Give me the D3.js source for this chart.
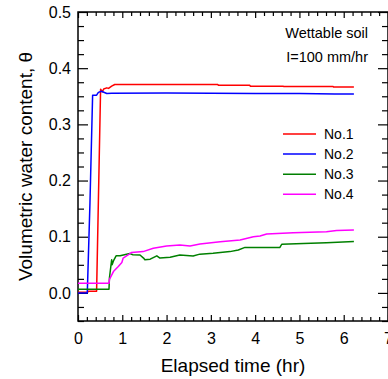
<!DOCTYPE html>
<html>
<head>
<meta charset="utf-8">
<script src="https://cdn.jsdelivr.net/npm/d3@7"></script>
<style>
  html, body { margin: 0; padding: 0; background: #fff; }
  svg { display: block; font-family: "Liberation Sans", Arial, sans-serif; }
</style>
</head>
<body>
<svg id="chart" width="388" height="379"></svg>
<script>
// ---- Data ----
const xTickValues = [0, 1, 2, 3, 4, 5, 6, 7];
const xTickLabels = ["0", "1", "2", "3", "4", "5", "6", "7"];
const yTickValues = [0.0, 0.1, 0.2, 0.3, 0.4, 0.5];
const yTickLabels = ["0.0", "0.1", "0.2", "0.3", "0.4", "0.5"];

const seriesNames = ["No.1", "No.2", "No.3", "No.4"];
const seriesColors = ["#ff0000", "#0000ff", "#008000", "#ff00ff"];

const no1Time = [0, 0.22, 0.23, 0.42, 0.51, 0.55, 0.58, 0.65, 0.69, 0.76, 0.83, 3.16, 3.17, 3.88, 3.89, 4.63, 4.64, 5.76, 5.77, 6.23];
const no1Theta = [0.001, 0.001, 0.003, 0.003, 0.3625, 0.358, 0.363, 0.365, 0.364, 0.368, 0.371, 0.371, 0.3695, 0.3695, 0.368, 0.368, 0.3675, 0.3675, 0.3665, 0.3665];

const no2Time = [0, 0.21, 0.27, 0.33, 0.42, 0.46, 0.53, 0.65, 0.76, 2.0, 3.0, 4.0, 5.0, 5.8, 6.23];
const no2Theta = [0.0, 0.0, 0.16, 0.352, 0.352, 0.357, 0.359, 0.355, 0.3555, 0.356, 0.3555, 0.355, 0.355, 0.354, 0.354];

const no3Time = [0, 0.70, 0.71, 0.76, 0.77, 0.80, 0.86, 0.95, 1.17, 1.24, 1.40, 1.48, 1.51, 1.63, 1.78, 1.85, 2.08, 2.30, 2.60, 2.75, 3.05, 3.43, 3.62, 3.77, 4.11, 4.56, 4.60, 5.09, 5.61, 6.23];
const no3Theta = [0.0066, 0.0066, 0.027, 0.059, 0.050, 0.057, 0.066, 0.066, 0.070, 0.068, 0.0675, 0.062, 0.059, 0.060, 0.066, 0.062, 0.0635, 0.0675, 0.0658, 0.069, 0.0706, 0.0735, 0.0765, 0.081, 0.0807, 0.081, 0.0866, 0.088, 0.0895, 0.0913];

const no4Time = [0, 0.70, 0.71, 0.80, 0.91, 0.99, 1.02, 1.13, 1.21, 1.47, 1.70, 2.00, 2.30, 2.53, 2.755, 3.21, 3.66, 3.96, 4.11, 4.26, 4.86, 5.61, 5.84, 6.23];
const no4Theta = [0.017, 0.017, 0.024, 0.038, 0.047, 0.054, 0.062, 0.0675, 0.072, 0.0735, 0.0795, 0.0836, 0.0854, 0.0836, 0.087, 0.091, 0.094, 0.100, 0.1014, 0.105, 0.107, 0.109, 0.111, 0.112];

const seriesTimes = [no1Time, no2Time, no3Time, no4Time];
const seriesThetas = [no1Theta, no2Theta, no3Theta, no4Theta];

// ---- Layout ----
const svg = d3.select("#chart");
const pL = 78, pR = 388, pT = 12, pB = 321;
const x = d3.scaleLinear().domain([0, 7]).range([pL, pR]);
const y = d3.scaleLinear().domain([-0.05, 0.5]).range([pB, pT]);

const xMinor = d3.range(0, 7.0001, 0.2).filter(v => Math.abs(v - Math.round(v)) > 1e-6);
const yMinor = d3.range(-0.05, 0.5001, 0.025).filter(v => Math.abs(v * 10 - Math.round(v * 10)) > 1e-6);

function styleAxis(g, fs) {
  g.select(".domain").remove();
  g.selectAll(".tick line").attr("stroke", "#000").attr("stroke-width", 1.2);
  g.selectAll(".tick text").attr("font-size", fs).attr("fill", "#000")
    .attr("font-family", "Liberation Sans, Arial, sans-serif");
}

// Left
svg.append("g").attr("transform", `translate(${pL},0)`)
  .call(d3.axisLeft(y).tickValues(yMinor).tickSize(-6).tickFormat(""))
  .call(g => styleAxis(g, 16));
svg.append("g").attr("transform", `translate(${pL},0)`)
  .call(d3.axisLeft(y).tickValues(yTickValues).tickSize(-10).tickPadding(7)
    .tickFormat((d, i) => yTickLabels[i]))
  .call(g => styleAxis(g, 16));
// Right
svg.append("g").attr("transform", `translate(${pR},0)`)
  .call(d3.axisRight(y).tickValues(yMinor).tickSize(-6).tickFormat(""))
  .call(g => styleAxis(g, 16));
svg.append("g").attr("transform", `translate(${pR},0)`)
  .call(d3.axisRight(y).tickValues(yTickValues).tickSize(-10).tickFormat(""))
  .call(g => styleAxis(g, 16));
// Bottom
svg.append("g").attr("transform", `translate(0,${pB})`)
  .call(d3.axisBottom(x).tickValues(xMinor).tickSize(-4).tickFormat(""))
  .call(g => styleAxis(g, 16));
svg.append("g").attr("transform", `translate(0,${pB})`)
  .call(d3.axisBottom(x).tickValues(xTickValues).tickSize(-6).tickPadding(12)
    .tickFormat((d, i) => xTickLabels[i]))
  .call(g => styleAxis(g, 16));
// Top
svg.append("g").attr("transform", `translate(0,${pT})`)
  .call(d3.axisTop(x).tickValues(xMinor).tickSize(-4).tickFormat(""))
  .call(g => styleAxis(g, 16));
svg.append("g").attr("transform", `translate(0,${pT})`)
  .call(d3.axisTop(x).tickValues(xTickValues).tickSize(-6).tickFormat(""))
  .call(g => styleAxis(g, 16));

// Frame
svg.append("rect")
  .attr("x", pL).attr("y", pT)
  .attr("width", pR - pL).attr("height", pB - pT)
  .attr("fill", "none").attr("stroke", "#000").attr("stroke-width", 1.5);

// Lines
const line = d3.line().x(d => x(d[0])).y(d => y(d[1]));
seriesNames.forEach((name, i) => {
  const pts = seriesTimes[i].map((t, j) => [t, seriesThetas[i][j]]);
  svg.append("path").datum(pts)
    .attr("d", line)
    .attr("fill", "none")
    .attr("stroke", seriesColors[i])
    .attr("stroke-width", 1.5)
    .attr("stroke-linejoin", "round");
});

// Legend
const legY = [134, 154, 174.3, 194.3];
seriesNames.forEach((name, i) => {
  svg.append("line")
    .attr("x1", 283).attr("x2", 316)
    .attr("y1", legY[i]).attr("y2", legY[i])
    .attr("stroke", seriesColors[i]).attr("stroke-width", 1.5);
  svg.append("text")
    .attr("x", 324).attr("y", legY[i]).attr("dy", "0.35em")
    .attr("font-size", 14).attr("fill", "#000")
    .text(name);
});

// Annotations
svg.append("text").attr("x", 368).attr("y", 38.3).attr("text-anchor", "end")
  .attr("font-size", 14.5).attr("fill", "#000").text("Wettable soil");
svg.append("text").attr("x", 368).attr("y", 61.7).attr("text-anchor", "end")
  .attr("font-size", 14.5).attr("fill", "#000").text("I=100 mm/hr");

// Axis titles
svg.append("text")
  .attr("transform", `translate(${(pL + pR) / 2},372)`)
  .attr("text-anchor", "middle").attr("font-size", 19).attr("fill", "#000")
  .text("Elapsed time (hr)");
svg.append("text")
  .attr("transform", `translate(32,${(pT + pB) / 2}) rotate(-90)`)
  .attr("text-anchor", "middle").attr("font-size", 19).attr("fill", "#000")
  .text("Volumetric water content, θ");
</script>
</body>
</html>
